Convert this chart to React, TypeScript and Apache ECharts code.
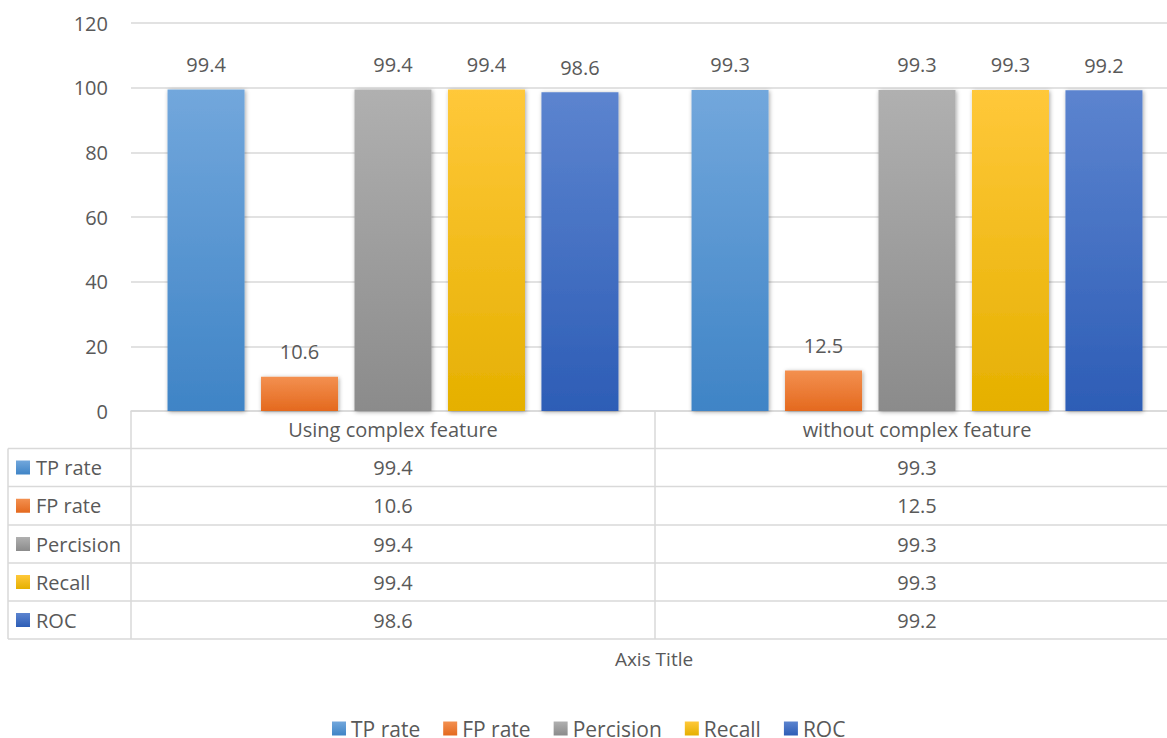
import React, { useEffect, useRef } from "react";
import * as echarts from "echarts";

const categories = ["Using complex feature", "without complex feature"];
const seriesNames = ["TP rate", "FP rate", "Percision", "Recall", "ROC"];
const tpRate = [99.4, 99.3];
const fpRate = [10.6, 12.5];
const percision = [99.4, 99.3];
const recall = [99.4, 99.3];
const roc = [98.6, 99.2];
const seriesValues = [tpRate, fpRate, percision, recall, roc];
const colorStops: [string, string][] = [
  ["#72a7dc", "#3f84c6"],
  ["#f39050", "#e4691e"],
  ["#b0b0b0", "#8b8b8b"],
  ["#ffc83a", "#e5b000"],
  ["#5c84cf", "#2d5db6"],
];

const FONT = "'Open Sans', 'Noto Sans', sans-serif";
const TEXT = "#595959";
const LINE = "#d9d9d9";
const FS = 20;

function grad(c: [string, string]) {
  return new echarts.graphic.LinearGradient(0, 0, 0, 1, [
    { offset: 0, color: c[0] },
    { offset: 1, color: c[1] },
  ]);
}

export default function App() {
  const ref = useRef<HTMLDivElement>(null);
  useEffect(() => {
    document.body.style.margin = "0";
    const chart = echarts.init(ref.current!, null, { renderer: "svg" });
    const gridLeft = 131;
    const gridWidth = 1048;
    const colCenters = categories.map((_, i) => gridLeft + (gridWidth / categories.length) * (i + 0.5));
    const rowLines = [448.5, 486.5, 525, 563, 601, 639];
    const graphics: any[] = [];
    rowLines.forEach((y) => {
      graphics.push({ type: "line", shape: { x1: 8, y1: y, x2: 1180, y2: y }, style: { stroke: LINE, lineWidth: 1.5 } });
    });
    graphics.push({ type: "line", shape: { x1: 8, y1: 448.5, x2: 8, y2: 639 }, style: { stroke: LINE, lineWidth: 1.5 } });
    graphics.push({ type: "line", shape: { x1: 131, y1: 411, x2: 131, y2: 639 }, style: { stroke: LINE, lineWidth: 1.5 } });
    graphics.push({ type: "line", shape: { x1: gridLeft + gridWidth / 2, y1: 411, x2: gridLeft + gridWidth / 2, y2: 639 }, style: { stroke: LINE, lineWidth: 1.5 } });
    seriesNames.forEach((name, r) => {
      const cy = (rowLines[r] + rowLines[r + 1]) / 2;
      graphics.push({ type: "rect", shape: { x: 16, y: cy - 7, width: 14, height: 14 }, style: { fill: grad(colorStops[r]) } });
      graphics.push({ type: "text", x: 36, y: cy, style: { text: name, fontSize: FS, fontFamily: FONT, fill: TEXT, verticalAlign: "middle", align: "left" } });
      seriesValues[r].forEach((v, c) => {
        graphics.push({ type: "text", x: colCenters[c], y: cy, style: { text: v.toFixed(1), fontSize: FS, fontFamily: FONT, fill: TEXT, verticalAlign: "middle", align: "center" } });
      });
    });
    graphics.push({ type: "text", x: 654, y: 659, style: { text: "Axis Title", fontSize: 19, fontFamily: FONT, fill: TEXT, verticalAlign: "middle", align: "center" } });

    chart.setOption({
      animation: false,
      textStyle: { fontFamily: FONT },
      grid: { left: gridLeft, top: 23, width: gridWidth, height: 388 },
      legend: {
        left: 332,
        top: 718,
        padding: 0,
        icon: "rect",
        itemWidth: 14,
        itemHeight: 14,
        itemGap: 23,
        textStyle: { color: TEXT, fontSize: 21, fontFamily: FONT, lineHeight: 18 },
        data: seriesNames,
      },
      xAxis: {
        type: "category",
        data: categories,
        axisLine: { show: true, lineStyle: { color: LINE, width: 1.5 } },
        axisTick: { show: false },
        axisLabel: { color: TEXT, fontSize: FS, margin: 8, fontFamily: FONT },
      },
      yAxis: {
        type: "value",
        min: 0,
        max: 120,
        interval: 20,
        axisLine: { show: false },
        axisTick: { show: false },
        axisLabel: { color: TEXT, fontSize: FS, margin: 23, fontFamily: FONT },
        splitLine: { lineStyle: { color: LINE, width: 1.5 } },
      },
      graphic: graphics,
      series: seriesNames.map((name, i) => ({
        name,
        type: "bar",
        data: seriesValues[i],
        barWidth: 77,
        barGap: "21.4%",
        itemStyle: {
          color: grad(colorStops[i]),
          shadowBlur: 4,
          shadowColor: "rgba(0,0,0,0.35)",
          shadowOffsetX: 1,
          shadowOffsetY: 1,
        },
        label: {
          show: true,
          position: "top",
          distance: 15,
          color: TEXT,
          fontSize: FS,
          fontFamily: FONT,
          formatter: (p: any) => p.value.toFixed(1),
        },
      })),
    });
    return () => chart.dispose();
  }, []);
  return (
    <div style={{ width: 1167, height: 738, overflow: "hidden", position: "relative" }}>
      <div ref={ref} style={{ width: 1180, height: 738 }} />
    </div>
  );
}
